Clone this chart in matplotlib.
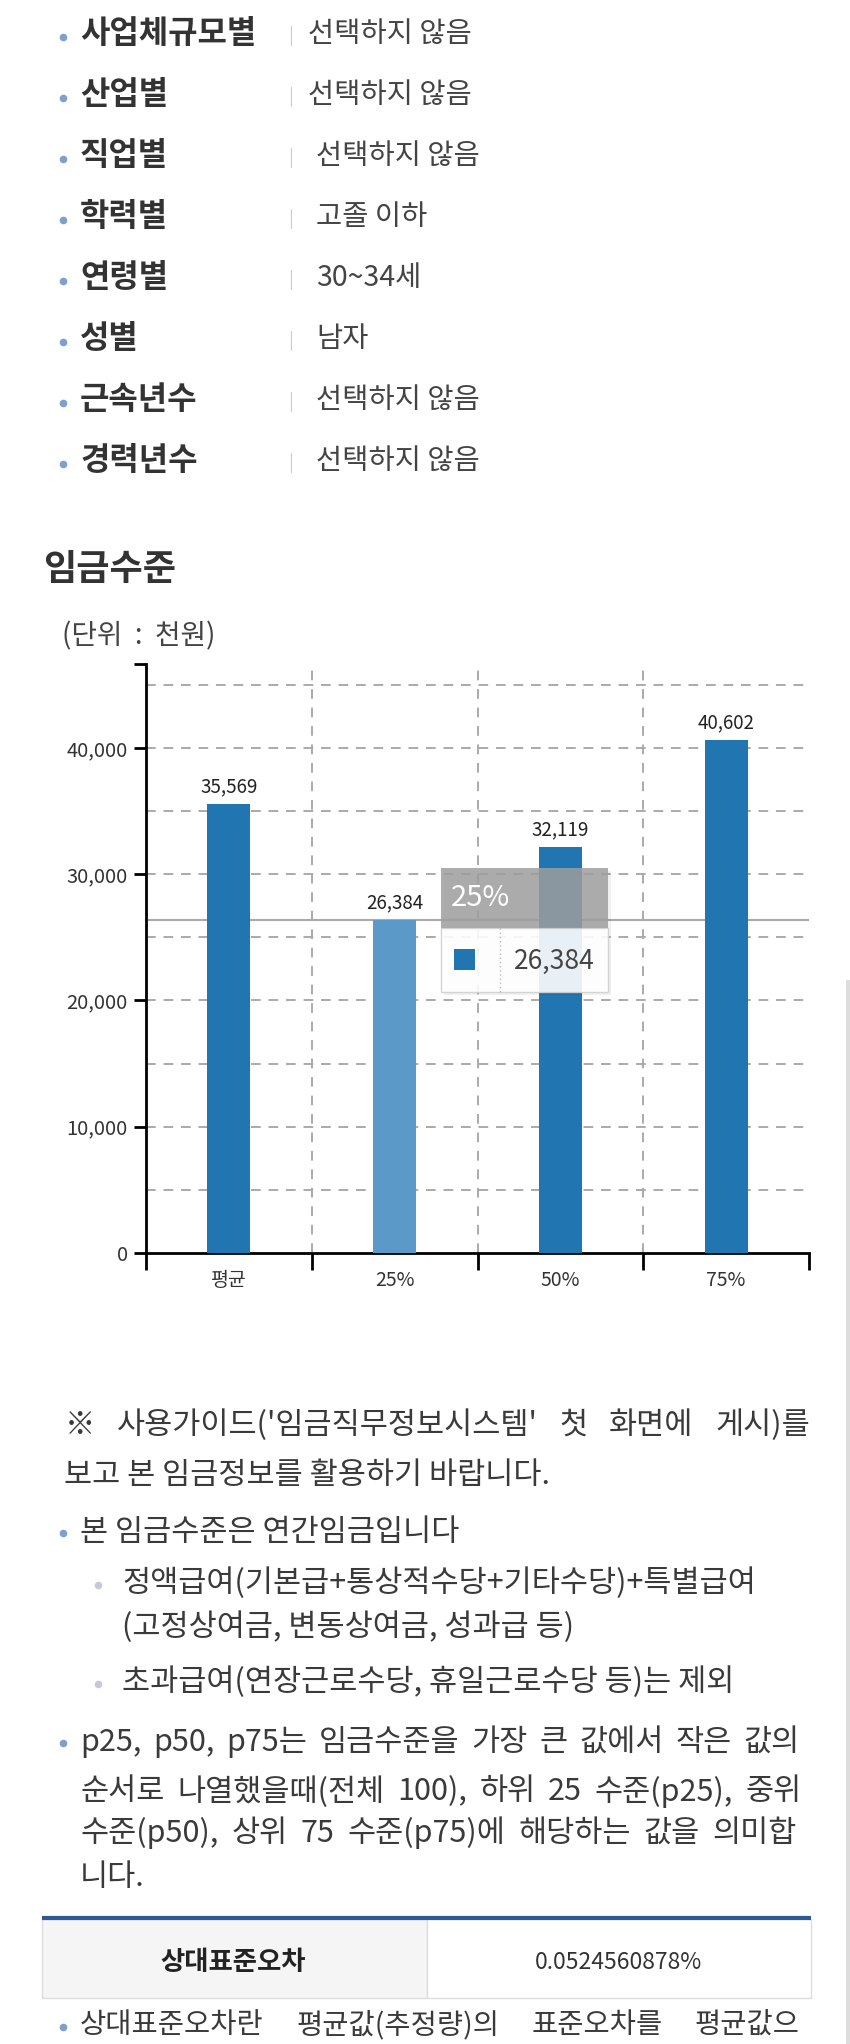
import matplotlib
matplotlib.use("Agg")
import matplotlib.pyplot as plt
from matplotlib.patches import Rectangle
from matplotlib.lines import Line2D
import numpy as np

# ---------------- data ----------------
filter_labels = ['사업체규모별', '산업별', '직업별', '학력별', '연령별', '성별', '근속년수', '경력년수']
filter_values = ['선택하지 않음', '선택하지 않음', '선택하지 않음', '고졸 이하', '30~34세', '남자',
                 '선택하지 않음', '선택하지 않음']
categories = ['평균', '25%', '50%', '75%']
values = [35569, 26384, 32119, 40602]
hover_index = 1
y_ticks = [0, 10000, 20000, 30000, 40000]
rse_label = '상대표준오차'
rse_value = '0.0524560878%'

FONT = ['Noto Sans CJK KR', 'DejaVu Sans']
plt.rcParams['font.family'] = FONT

W, H = 850, 2044
fig = plt.figure(figsize=(W / 100, H / 100), dpi=100)
fig.patch.set_facecolor('white')


def fx(x):
    return x / W


def fy(y):
    return 1 - y / H


def text(x, y, s, size, color='#333333', weight='normal', ha='left', z=3):
    return fig.text(fx(x), fy(y), s, fontsize=size, color=color, fontweight=weight,
                    ha=ha, va='center', family=FONT, zorder=z)


def bullet(x, y, color='#7f9fcf', ms=5.5):
    fig.add_artist(Line2D([fx(x)], [fy(y)], marker='o', markersize=ms, color=color,
                          markeredgewidth=0, transform=fig.transFigure))


def justify(words, x0, x1, y, size, color='#3a3a3a'):
    ts = [text(0, y, w, size, color=color) for w in words]
    r = fig.canvas.get_renderer()
    widths = [t.get_window_extent(r).width for t in ts]
    gap = (x1 - x0 - sum(widths)) / (len(words) - 1)
    x = x0
    for t, w in zip(ts, widths):
        t.set_x(fx(x))
        x += w + gap


# ---------------- filter list ----------------
row_y = [34, 95, 156, 217, 278, 339, 400, 461]
val_x = [308, 308, 316, 316, 316, 316, 316, 316]
for lab, val, y, vx in zip(filter_labels, filter_values, row_y, val_x):
    bullet(63, y + 3)
    text(80, y, lab, 23, color='#333333', weight='bold')
    text(288, y + 2, '|', 13, color='#cccccc')
    text(vx, y, val, 20.5, color='#444444')

# ---------------- title ----------------
text(43, 569, '임금수준', 26, color='#333333', weight='bold')
text(62, 636, '(단위  :  천원)', 20, color='#444444')

# ---------------- chart ----------------
left, right, top, bottom = 146, 809, 664, 1253
ax = fig.add_axes([fx(left), fy(bottom), (right - left) / W, (bottom - top) / H])
ax.set_facecolor('none')
ymax = 46650
ax.set_ylim(0, ymax)
ax.set_xlim(-0.5, len(categories) - 0.5)

x = np.arange(len(categories))
colors = ['#2176b2'] * len(categories)
colors[hover_index] = '#5b9ac8'
ax.bar(x, values, width=0.26, color=colors, zorder=3)

# grid
for gy in np.arange(5000, ymax, 5000):
    ax.axhline(gy, color='#aaaaaa', lw=1.4, ls=(0, (5, 4)), zorder=1)
for gx in x[:-1] + 0.5:
    ax.axvline(gx, color='#aaaaaa', lw=1.4, ls=(0, (5, 4.5)), zorder=1)

# crosshair
ax.axhline(values[hover_index], color='#aaaaaa', lw=1.5, zorder=2)

# labels
for xi, v in zip(x, values):
    ax.annotate(f'{v:,}', (xi, v), xytext=(0, 5), textcoords='offset points',
                ha='center', va='bottom', fontsize=13.5, color='#222222', zorder=4)

for s in ['top', 'right']:
    ax.spines[s].set_visible(False)
for s in ['left', 'bottom']:
    ax.spines[s].set_linewidth(2)
    ax.spines[s].set_color('black')

ax.set_yticks(y_ticks + [ymax])
ax.set_yticklabels([f'{t:,}' for t in y_ticks] + [''])
ax.tick_params(axis='y', length=9, width=2, pad=4, labelsize=14.5, labelcolor='#333333')

ax.set_xticks(np.arange(-0.5, len(categories), 1.0))
ax.set_xticklabels([''] * (len(categories) + 1))
ax.tick_params(axis='x', which='major', length=12, width=2, direction='out')
ax.set_xticks(x, minor=True)
ax.set_xticklabels(categories, minor=True)
ax.tick_params(axis='x', which='minor', length=0, pad=12, labelsize=14, labelcolor='#333333')

# ---------------- tooltip ----------------
tx0, tx1, ty0, tmid, ty1 = 441, 608, 868, 928, 992
fig.add_artist(Rectangle((fx(tx0 + 3), fy(ty1 + 3)), (tx1 - tx0) / W, (ty1 - ty0) / H,
                         transform=fig.transFigure, facecolor='black', alpha=0.06,
                         edgecolor='none', zorder=8))
fig.add_artist(Rectangle((fx(tx0), fy(ty1)), (tx1 - tx0) / W, (ty1 - tmid) / H,
                         transform=fig.transFigure, facecolor='white', alpha=0.9,
                         edgecolor='#d0d0d0', lw=1, zorder=9))
fig.add_artist(Rectangle((fx(tx0), fy(tmid)), (tx1 - tx0) / W, (tmid - ty0) / H,
                         transform=fig.transFigure, facecolor='#9f9f9f', alpha=0.85,
                         edgecolor='none', zorder=9))
fig.add_artist(Line2D([fx(500), fx(500)], [fy(tmid), fy(ty1)], transform=fig.transFigure,
                      color='#bbbbbb', lw=1, ls=(0, (1, 2)), zorder=10))
fig.add_artist(Rectangle((fx(454), fy(970)), 21 / W, 21 / H, transform=fig.transFigure,
                         facecolor='#2176b2', edgecolor='none', zorder=10))
text(451, 898, categories[hover_index], 21, color='white', z=11)
text(595, 961, f'{values[hover_index]:,}', 19, color='#444444', ha='right', z=11)

# scrollbar hint
fig.add_artist(Rectangle((fx(846), 0), 4 / W, fy(980), transform=fig.transFigure,
                         facecolor='#dddddd', edgecolor='none', zorder=1))

# ---------------- notes ----------------
TS = 22
justify(['※', "사용가이드('임금직무정보시스템'", '첫', '화면에', '게시)를'], 65, 810, 1425, TS)
text(64, 1475, '보고 본 임금정보를 활용하기 바랍니다.', TS, color='#3a3a3a')
bullet(63, 1533)
text(80, 1532, '본 임금수준은 연간임금입니다', TS, color='#3a3a3a')
bullet(98, 1585, color='#c8c8dc')
text(122, 1583, '정액급여(기본급+통상적수당+기타수당)+특별급여', TS, color='#3a3a3a')
text(122, 1627, '(고정상여금, 변동상여금, 성과급 등)', TS, color='#3a3a3a')
bullet(98, 1684, color='#c8c8dc')
text(122, 1682, '초과급여(연장근로수당, 휴일근로수당 등)는 제외', TS, color='#3a3a3a')
bullet(63, 1743)
justify('p25, p50, p75는 임금수준을 가장 큰 값에서 작은 값의'.split(), 80, 800, 1742, TS)
justify('순서로 나열했을때(전체 100), 하위 25 수준(p25), 중위'.split(), 80, 802, 1792, TS)
justify('수준(p50), 상위 75 수준(p75)에 해당하는 값을 의미합'.split(), 80, 797, 1833, TS)
text(80, 1877, '니다.', TS, color='#3a3a3a')

# table
fig.add_artist(Rectangle((fx(42), fy(1998)), (427 - 42) / W, (1998 - 1919) / H,
                         transform=fig.transFigure, facecolor='#f5f5f5', edgecolor='#dddddd',
                         lw=1, zorder=2))
fig.add_artist(Rectangle((fx(427), fy(1998)), (811 - 427) / W, (1998 - 1919) / H,
                         transform=fig.transFigure, facecolor='white', edgecolor='#dddddd',
                         lw=1, zorder=2))
fig.add_artist(Line2D([fx(42), fx(811)], [fy(1918), fy(1918)], transform=fig.transFigure,
                      color='#2c5a94', lw=3, zorder=3, solid_capstyle='butt'))
text(233, 1962, rse_label, 19, color='#222222', weight='bold', ha='center')
text(618, 1962, rse_value, 16.5, color='#333333', ha='center')

bullet(63, 2027)
justify('상대표준오차란 평균값(추정량)의 표준오차를 평균값으'.split(), 80, 800, 2025, 20.5)

fig.savefig('out.png', dpi=100, facecolor='white')
